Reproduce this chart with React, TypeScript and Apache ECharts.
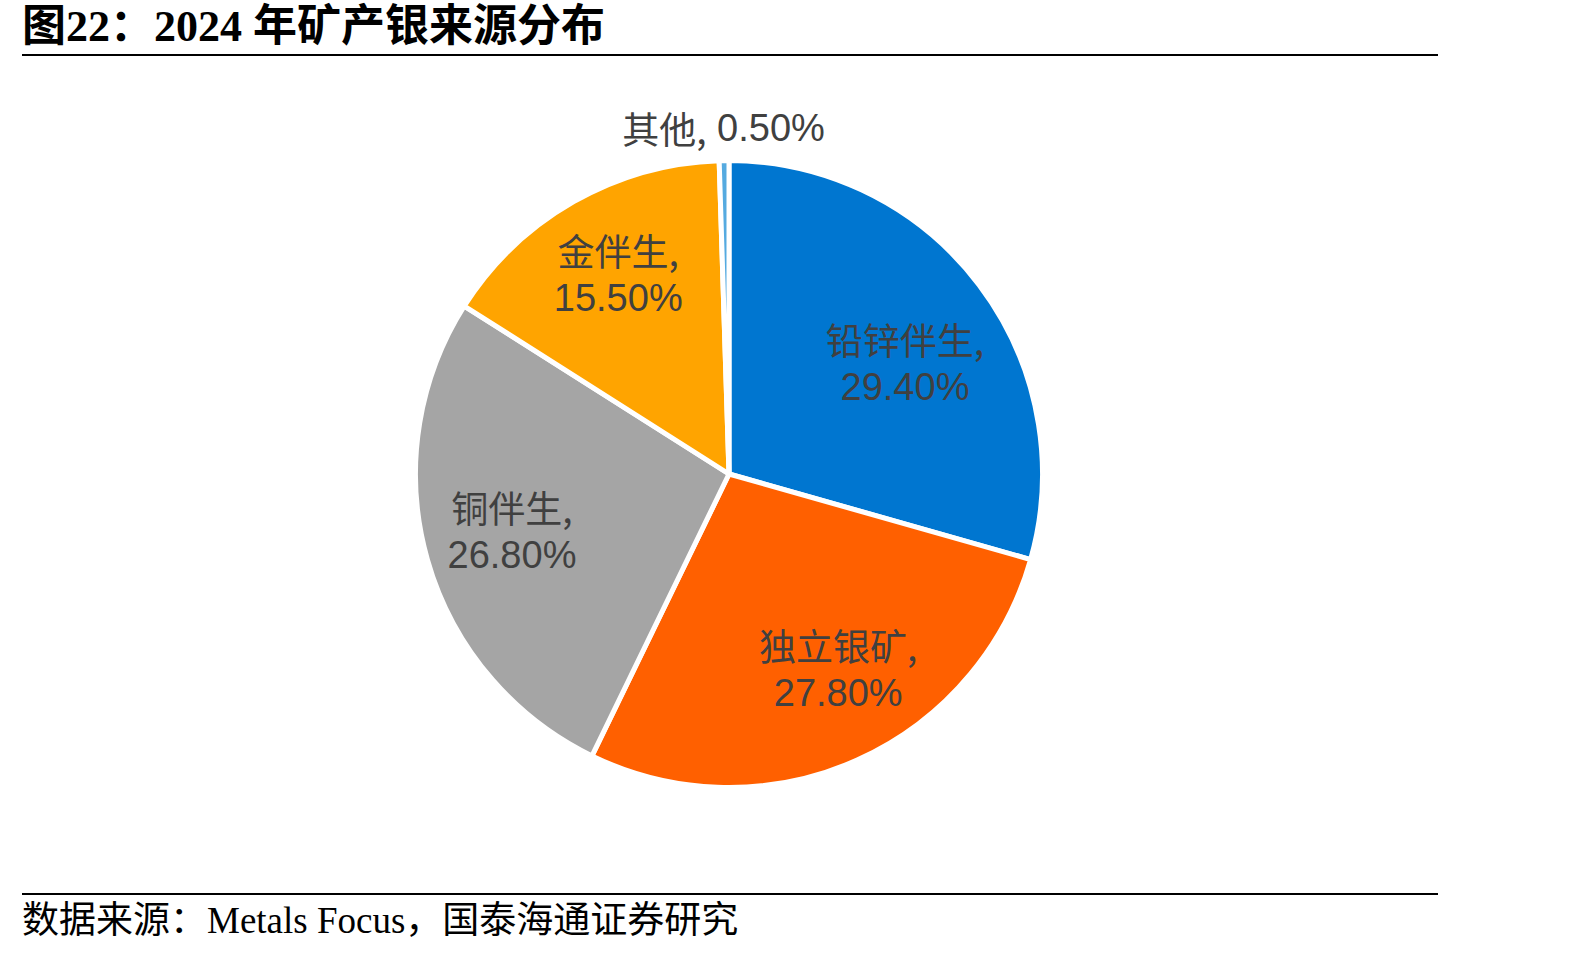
import React, { useEffect, useRef } from "react";
import * as echarts from "echarts";

const titleText = "图22：2024 年矿产银来源分布";
const sourceText = "数据来源：Metals Focus，国泰海通证券研究";

const categories = ["铅锌伴生", "独立银矿", "铜伴生", "金伴生", "其他"];
const shares = [29.4, 27.8, 26.8, 15.5, 0.5];
const sliceColors = ["#0076D0", "#FF6000", "#A5A5A5", "#FFA400", "#55AAE0"];
const outsideLabelNames = ["其他"];
// small nudges of the inside labels (px), like the source's best-fit placement
const labelNudges: Record<string, [number, number]> = {
  铅锌伴生: [-4, 25],
  独立银矿: [17, -11],
  铜伴生: [0, -5],
  金伴生: [1, -4],
};

const CJK = '"Noto Sans CJK SC", sans-serif';
const NUM = '"Liberation Sans", Arial, sans-serif';

export default function App() {
  const ref = useRef<HTMLDivElement>(null);
  useEffect(() => {
    if (!ref.current) return;
    const chart = echarts.init(ref.current, undefined, { renderer: "svg" });
    const cx = 729;
    const cy = 474;
    const R = 313.5;

    const fmt = (p: any) => `{a|${p.name},}\n{b|${Number(p.value).toFixed(2)}%}`;
    const fmtOne = (p: any) => `{a|${p.name},}{b| ${Number(p.value).toFixed(2)}%}`;
    const rich = {
      a: { fontFamily: CJK, fontSize: 37, color: "#404040", lineHeight: 48 },
      b: { fontFamily: NUM, fontSize: 38, color: "#404040", lineHeight: 48 },
    };

    chart.setOption({
      animation: false,
      backgroundColor: "#ffffff",
      graphic: [
        {
          type: "text",
          left: 22,
          top: 4,
          style: {
            text: titleText,
            font: `bold 44px "Liberation Serif", "Noto Sans CJK SC", serif`,
            fill: "#000",
          },
        },
        {
          type: "line",
          shape: { x1: 22, y1: 55, x2: 1438, y2: 55 },
          style: { stroke: "#000", lineWidth: 2 },
        },
        {
          type: "line",
          shape: { x1: 22, y1: 894, x2: 1438, y2: 894 },
          style: { stroke: "#000", lineWidth: 2 },
        },
        {
          type: "text",
          left: 22,
          top: 902,
          style: {
            text: sourceText,
            font: `37px "Liberation Serif", "Noto Sans CJK SC", serif`,
            fill: "#000",
          },
        },
      ],
      series: [
        {
          type: "pie",
          center: [cx, cy],
          radius: [0, R],
          startAngle: 90,
          clockwise: true,
          silent: true,
          label: { show: false },
          labelLine: { show: false },
          itemStyle: { borderColor: "#ffffff", borderWidth: 5 },
          data: categories.map((n, i) => ({
            name: n,
            value: shares[i],
            itemStyle: { color: sliceColors[i] },
          })),
        },
        {
          type: "pie",
          center: [cx, cy],
          radius: [R * 0.42, R],
          startAngle: 90,
          clockwise: true,
          silent: true,
          avoidLabelOverlap: false,
          itemStyle: { color: "transparent", borderWidth: 0 },
          labelLine: { show: false },
          label: {
            show: true,
            position: "inside",
            formatter: fmt,
            rich,
            align: "center",
          },
          data: categories.map((n, i) => ({
            name: n,
            value: shares[i],
            label: {
              show: !outsideLabelNames.includes(n),
              offset: labelNudges[n] || [0, 0],
            },
          })),
        },
        {
          type: "pie",
          center: [cx, cy],
          radius: [327, 359],
          startAngle: 90,
          clockwise: true,
          silent: true,
          avoidLabelOverlap: false,
          itemStyle: { color: "transparent", borderWidth: 0 },
          labelLine: { show: false },
          label: {
            show: true,
            position: "inside",
            formatter: fmtOne,
            rich,
          },
          data: categories.map((n, i) => ({
            name: n,
            value: shares[i],
            label: { show: outsideLabelNames.includes(n) },
          })),
        },
      ],
    });
    return () => chart.dispose();
  }, []);
  return (
    <div
      ref={ref}
      style={{ position: "absolute", left: 0, top: 0, width: 1594, height: 953, background: "#fff" }}
    />
  );
}
